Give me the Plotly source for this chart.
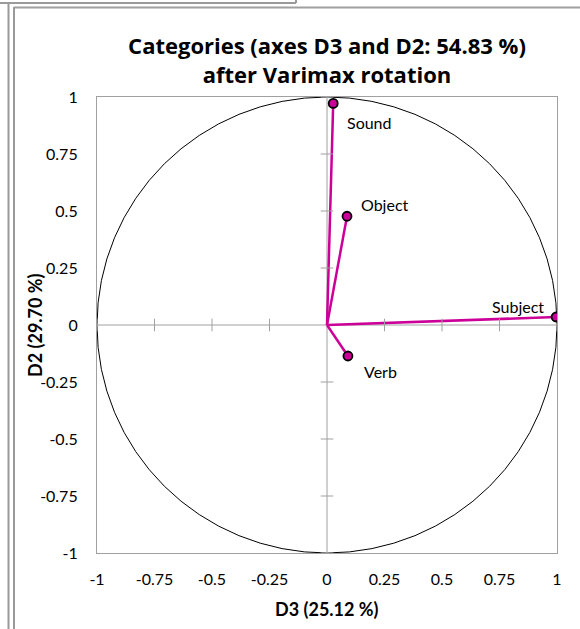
import plotly.graph_objects as go

categories = ["Sound", "Object", "Subject", "Verb"]
d3_values = [0.027, 0.087, 0.996, 0.091]
d2_values = [0.972, 0.477, 0.035, -0.136]
tick_values = [-1, -0.75, -0.5, -0.25, 0, 0.25, 0.5, 0.75, 1]
tick_labels = ["-1", "-0.75", "-0.5", "-0.25", "0", "0.25", "0.5", "0.75", "1"]
label_shifts = {"Sound": (36, -19), "Object": (38, 12), "Subject": (-38, 11), "Verb": (33, -15)}

W, H = 580, 629
L, R, T, B = 97, 23, 97, 76
PW, PH = W - L - R, H - T - B

def px(x):
    return (x - L) / PW

def py(y):
    return (H - B - y) / PH

MAG = "#cc0099"
GRAY = "#a0a0a0"
FONT = "Lato, Open Sans, DejaVu Sans, sans-serif"
TFONT = "Open Sans, Lato, DejaVu Sans, sans-serif"

fig = go.Figure()

# vectors from origin
lx, ly = [], []
for x, y in zip(d3_values, d2_values):
    lx += [0, x, None]
    ly += [0, y, None]
fig.add_trace(go.Scatter(x=lx, y=ly, mode="lines", line=dict(color=MAG, width=2.5),
                         hoverinfo="skip", showlegend=False))

# tick marks on the zero lines
nz = [t for t in tick_values if t != 0]
fig.add_trace(go.Scatter(x=nz, y=[0] * len(nz), mode="markers",
                         marker=dict(symbol="line-ns-open", size=9, color=GRAY,
                                     line=dict(color=GRAY, width=1)),
                         hoverinfo="skip", showlegend=False))
fig.add_trace(go.Scatter(x=[0] * len(nz), y=nz, mode="markers",
                         marker=dict(symbol="line-ew-open", size=9, color=GRAY,
                                     line=dict(color=GRAY, width=1)),
                         hoverinfo="skip", showlegend=False))

fig.add_trace(go.Scatter(x=d3_values, y=d2_values, mode="markers", text=categories,
                         marker=dict(color=MAG, size=9, line=dict(color="black", width=1.8)),
                         showlegend=False))

for name, x, y in zip(categories, d3_values, d2_values):
    dx, dy = label_shifts[name]
    fig.add_annotation(x=x, y=y, text=name, showarrow=False, xshift=dx, yshift=dy,
                       font=dict(family=FONT, size=16, color="black"))

# axis titles
fig.add_annotation(xref="paper", yref="paper", x=px(327), y=py(609), text="<b>D3 (25.12 %)</b>",
                   showarrow=False, xanchor="center", yanchor="middle",
                   font=dict(family=FONT, size=18, color="black"))
fig.add_annotation(xref="paper", yref="paper", x=px(35), y=py(325), text="<b>D2 (29.70 %)</b>",
                   showarrow=False, xanchor="center", yanchor="middle", textangle=-90,
                   font=dict(family=FONT, size=18, color="black"))

shapes = [
    dict(type="circle", xref="x", yref="y", x0=-1, y0=-1, x1=1, y1=1,
         line=dict(color="black", width=1), layer="below"),
    dict(type="line", xref="x", yref="y", x0=-1, y0=0, x1=1, y1=0,
         line=dict(color=GRAY, width=1), layer="below"),
    dict(type="line", xref="x", yref="y", x0=0, y0=-1, x1=0, y1=1,
         line=dict(color=GRAY, width=1), layer="below"),
    # decorative frame lines (page borders)
    dict(type="line", xref="paper", yref="paper", x0=px(0), y0=py(3), x1=px(296), y1=py(3),
         line=dict(color="#9a9a9a", width=2)),
    dict(type="line", xref="paper", yref="paper", x0=px(296), y0=py(0), x1=px(296), y1=py(3),
         line=dict(color="#9a9a9a", width=2)),
    dict(type="line", xref="paper", yref="paper", x0=px(14), y0=py(7.5), x1=px(580), y1=py(7.5),
         line=dict(color=GRAY, width=2)),
    dict(type="line", xref="paper", yref="paper", x0=px(8.5), y0=py(4), x1=px(8.5), y1=py(629),
         line=dict(color="#9a9a9a", width=2)),
    dict(type="line", xref="paper", yref="paper", x0=px(14), y0=py(7), x1=px(14), y1=py(629),
         line=dict(color="#9a9a9a", width=2)),
]

axis_common = dict(range=[-1, 1], tickvals=tick_values, ticktext=tick_labels,
                   showgrid=False, zeroline=False, showline=True, mirror=True,
                   linecolor=GRAY, linewidth=1.2, ticks="",
                   tickfont=dict(family=FONT, size=16, color="black"), fixedrange=True)

fig.update_layout(
    width=W, height=H,
    margin=dict(l=L, r=R, t=T, b=B),
    paper_bgcolor="white", plot_bgcolor="white",
    shapes=shapes,
    title=dict(text="Categories (axes D3 and D2: 54.83 %)<br>after Varimax rotation",
               xref="container", x=327 / W, xanchor="center",
               yref="container", y=1 - 54 / H, yanchor="middle",
               font=dict(family=TFONT, size=22, color="black", weight="bold")),
    xaxis=dict(**axis_common, ticklabelstandoff=12),
    yaxis=dict(**axis_common, ticklabelstandoff=15),
)

fig.write_html("out.html")
